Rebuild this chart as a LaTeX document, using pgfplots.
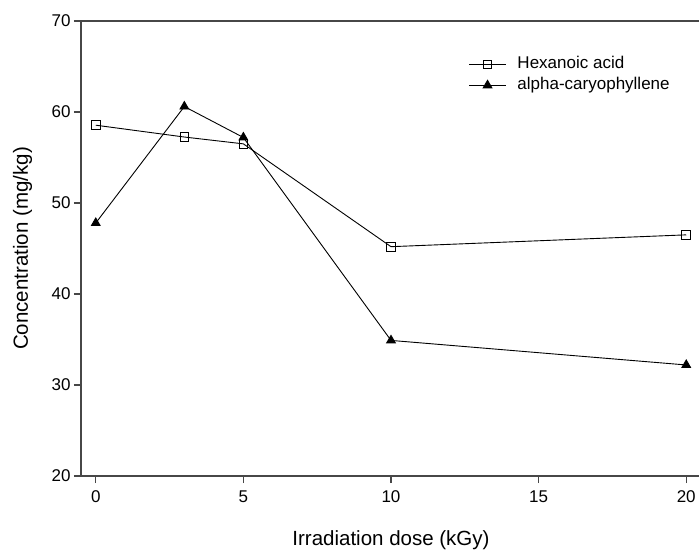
\documentclass[border=0pt]{standalone}
\usepackage{pgfplots}
\pgfplotsset{compat=1.18}
\usepackage{fontspec}
\setmainfont{Liberation Sans}

\begin{document}
\begin{tikzpicture}
\begin{axis}[
  name=ax,
  scale only axis,
  width=620pt, height=455pt,
  xmin=-0.5, xmax=20.5,
  ymin=20, ymax=70,
  axis x line=box,
  axis y line=left,
  xtick pos=lower,
  ytick pos=left,
  axis line style={-, draw=black!72, line width=1.3pt},
  tick style={draw=black!72, line width=1.1pt},
  tick align=outside,
  major tick length=7pt,
  xtick={0,5,10,15,20},
  ytick={20,30,40,50,60,70},
  /pgf/number format/assume math mode=true,
  ticklabel style={font=\fontsize{17}{20}\selectfont},
  xticklabel style={yshift=-4pt},
  every axis x label/.style={at={(axis description cs:0.5,-0.1538)}, anchor=base},
  every axis y label/.style={at={(axis description cs:-0.0855,0.5)}, rotate=90, anchor=base},
  label style={font=\fontsize{20.5}{24}\selectfont},
  xlabel={Irradiation dose (kGy)},
  ylabel={Concentration (mg/kg)},
  legend cell align=left,
  legend style={
    at={(axis description cs:0.62,0.931)}, anchor=north west,
    draw=none, fill=none,
    font=\fontsize{17}{20}\selectfont,
    row sep=1.5pt,
    nodes={inner sep=2pt, text height=12pt, text depth=3.5pt},
  },
  legend image code/.code={%
    \draw[#1, mark repeat=2, mark phase=2] plot coordinates {(0pt,0pt) (18.5pt,0pt) (37pt,0pt)};
    \path (46pt,0pt);
  },
]
% Hexanoic acid
\addplot[black, line width=0.9pt, mark=square, mark size=4.3pt,
  mark options={fill=white, line width=0.9pt}]
  coordinates {(0,58.55) (3,57.25) (5,56.5) (10,45.2) (20,46.5)};
\addlegendentry{Hexanoic acid}
% alpha-caryophyllene
\addplot[black, line width=0.9pt, mark=triangle*, mark size=5pt,
  mark options={fill=black}]
  coordinates {(0,47.8) (3,60.6) (5,57.2) (10,34.9) (20,32.2)};
\addlegendentry{alpha-caryophyllene}
\end{axis}
\pgfresetboundingbox
\path ([xshift=-81pt,yshift=-76pt]ax.south west) rectangle ([xshift=618pt,yshift=476pt]ax.south west);
\end{tikzpicture}
\end{document}
